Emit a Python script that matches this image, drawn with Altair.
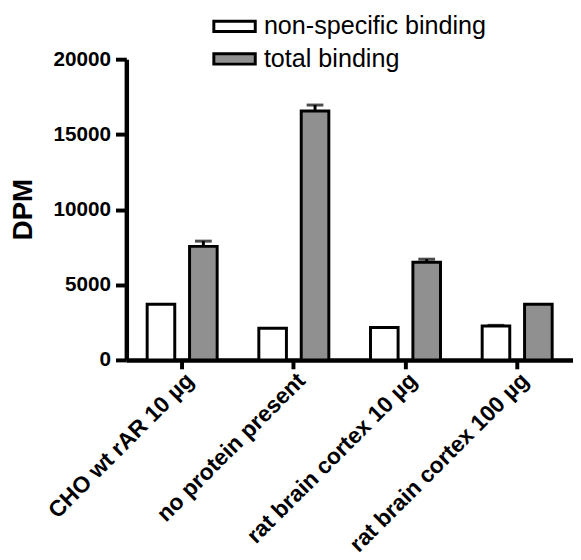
import altair as alt
import pandas as pd

categories = ["CHO wt rAR 10 µg", "no protein present", "rat brain cortex 10 µg", "rat brain cortex 100 µg"]
series = ["non-specific binding", "total binding"]
nonspecific = [3700, 2100, 2150, 2250]
nonspecific_upper = [None, None, None, 2300]
total = [7550, 16550, 6500, 3700]
total_upper = [7900, 16950, 6700, None]
y_ticks = [0, 5000, 10000, 15000, 20000]

rows = []
for i, c in enumerate(categories):
    rows.append({"category": c, "series": series[0], "value": nonspecific[i], "upper": nonspecific_upper[i]})
    rows.append({"category": c, "series": series[1], "value": total[i], "upper": total_upper[i]})
df = pd.DataFrame(rows)

FONT = "Liberation Sans"

x_enc = alt.X("category:N", sort=categories,
              scale=alt.Scale(paddingInner=0, paddingOuter=0),
              axis=alt.Axis(title=None, labelAngle=-45, labelAlign="right", labelBaseline="middle",
                            labelFontSize=23, labelFontWeight="bold", labelFont=FONT,
                            labelOffset=8, labelPadding=8, labelLimit=500,
                            tickSize=9, tickWidth=4, domainWidth=4.5,
                            labelColor="black", domainColor="black", tickColor="black"))
xo_enc = alt.XOffset("series:N", sort=series,
                     scale=alt.Scale(paddingInner=0.349, paddingOuter=0.4915))
y_enc = alt.Y("value:Q", scale=alt.Scale(domain=[0, 20000], nice=False, zero=True),
              axis=alt.Axis(values=y_ticks, format="d", labelFontSize=21, labelFontWeight="bold",
                            labelFont=FONT, tickSize=11, tickWidth=4, domainWidth=4.5, labelPadding=5,
                            title="DPM", titleFontSize=28, titleFont=FONT, titleFontWeight="bold",
                            titleX=-96, titleY=152, titleAngle=-90, titleBaseline="alphabetic",
                            titleAlign="center", grid=False, labelColor="black",
                            domainColor="black", tickColor="black", titleColor="black"))

base = alt.Chart(df)

bars = base.mark_bar(stroke="black", strokeWidth=3).encode(
    x=x_enc,
    xOffset=xo_enc,
    y=y_enc,
    fill=alt.Fill("series:N", sort=series,
                  scale=alt.Scale(domain=series, range=["#ffffff", "#909090"]),
                  legend=alt.Legend(title=None, orient="none", legendX=97, legendY=-46,
                                    symbolType="M-2,-0.5L2,-0.5L2,0.5L-2,0.5Z", symbolSize=441,
                                    symbolStrokeWidth=3, symbolStrokeColor="black",
                                    labelFontSize=25.5, labelFont=FONT, labelOffset=17,
                                    labelLimit=500,
                                    rowPadding=6, padding=0, labelColor="black",
                                    symbolOpacity=1)),
)

err = base.transform_filter("isValid(datum.upper)")

rules = err.mark_rule(color="black", strokeWidth=3).encode(
    x=alt.X("category:N", sort=categories),
    xOffset=alt.XOffset("series:N", sort=series),
    y="value:Q",
    y2="upper:Q",
)

caps = err.mark_tick(color="black", size=17, thickness=3).encode(
    x=alt.X("category:N", sort=categories),
    xOffset=alt.XOffset("series:N", sort=series),
    y="upper:Q",
)

chart = alt.layer(bars, rules, caps).properties(
    width=453, height=305,
    autosize=alt.AutoSizeParams(type="none"),
    padding={"left": 120, "top": 48, "right": 0, "bottom": 199},
).configure_view(stroke=None).configure_axis(
    grid=False, domainWidth=4.5, tickWidth=4, domainColor="black", tickColor="black"
)

chart.save("out.html", embed_options={"renderer": "svg", "actions": False})
